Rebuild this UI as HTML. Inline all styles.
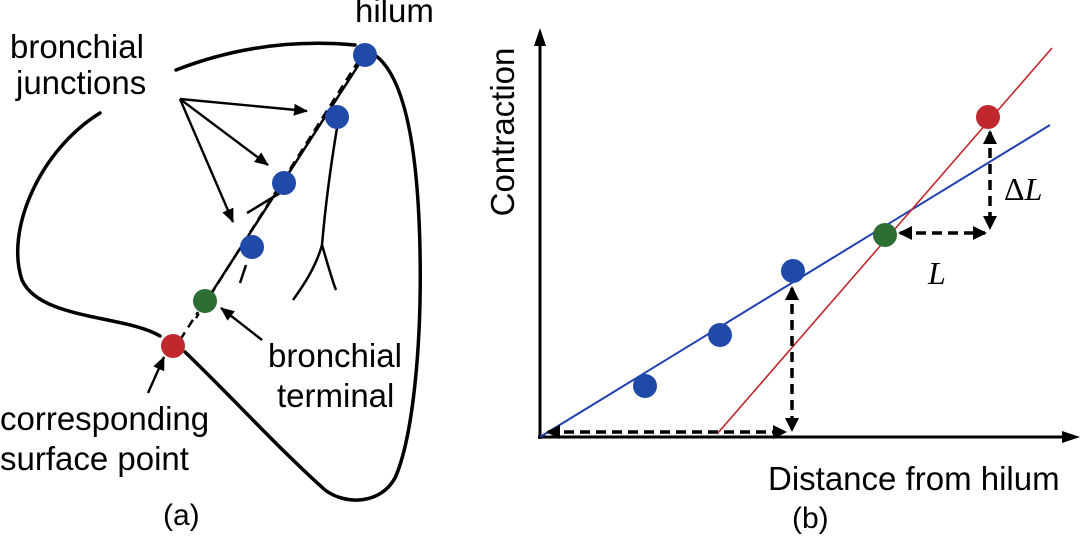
<!DOCTYPE html>
<html><head><meta charset="utf-8"><style>
html,body{margin:0;padding:0;background:#fff;}
svg{display:block;}
text{font-family:"Liberation Sans",sans-serif;fill:#000;}
</style></head><body>
<svg width="1080" height="536" viewBox="0 0 1080 536" xmlns="http://www.w3.org/2000/svg">
<defs>
<marker id="ah" markerWidth="14" markerHeight="12" refX="13" refY="6" orient="auto" markerUnits="userSpaceOnUse">
<path d="M0,0 L14,6 L0,12 z" fill="#000"/></marker>
<marker id="ah2" markerWidth="14" markerHeight="14" refX="12" refY="7" orient="auto-start-reverse" markerUnits="userSpaceOnUse">
<path d="M0,0 L14,7 L0,14 z" fill="#000"/></marker>
</defs>
<g fill="none" stroke="#000" stroke-width="3.5" stroke-linecap="round">
<path d="M176,70 C240,45 300,40 355,45"/>
<path d="M370,52 C405,70 418,150 420,250 C422,350 412,440 395,478 C380,505 345,505 325,490 C280,450 230,395 185,352"/>
<path d="M100,113 C40,150 5,230 22,280 C40,320 125,315 160,336"/>
</g>
<g fill="none" stroke="#000" stroke-width="2.5">
<path d="M365,55 L212,292"/>
<path d="M359,60 L196,318" stroke-dasharray="9,6"/>
<path d="M180,340 L198,312" stroke-dasharray="9,6"/>
<path d="M337,128 C330,170 325,210 322,245 C315,270 300,290 293,300"/>
<path d="M322,245 C328,265 332,280 336,290"/>
<path d="M247,213 L280,193"/>
<path d="M240,283 L246,265"/>
</g>
<g stroke="#000" stroke-width="2.4" fill="none">
<line x1="180" y1="99" x2="307" y2="111" marker-end="url(#ah)"/>
<line x1="180" y1="99" x2="268" y2="165" marker-end="url(#ah)"/>
<line x1="180" y1="99" x2="233" y2="222" marker-end="url(#ah)"/>
<line x1="262" y1="340" x2="221" y2="308" marker-end="url(#ah)"/>
<line x1="148" y1="393" x2="164" y2="357" marker-end="url(#ah)"/>
</g>
<circle cx="365" cy="55" r="12" fill="#1f4aa8"/>
<circle cx="337" cy="117" r="12" fill="#1f4aa8"/>
<circle cx="284" cy="183" r="12" fill="#1f4aa8"/>
<circle cx="252" cy="247" r="12" fill="#1f4aa8"/>
<circle cx="205" cy="301" r="12" fill="#2c6e34"/>
<circle cx="173" cy="346" r="12" fill="#c0282d"/>
<g font-size="33">
<text x="355" y="22">hilum</text>
<text x="10" y="58">bronchial</text>
<text x="16" y="94">junctions</text>
<text x="268" y="367">bronchial</text>
<text x="277" y="407">terminal</text>
<text x="0" y="430">corresponding</text>
<text x="0" y="470">surface point</text>
<text x="163" y="525" font-size="30">(a)</text>
</g>
<g stroke="#000" stroke-width="3" fill="none">
<line x1="540" y1="439" x2="540" y2="38"/>
<line x1="538" y1="437" x2="1070" y2="437"/>
</g>
<path d="M540,28 L534,46 L546,46 z" fill="#000"/>
<path d="M1080,437 L1062,431 L1062,443 z" fill="#000"/>
<line x1="540" y1="437" x2="1050" y2="125" stroke="#2040b0" stroke-width="2"/>
<line x1="717" y1="434" x2="1052" y2="48" stroke="#c0282d" stroke-width="1.6"/>
<g stroke="#000" stroke-width="3.5" fill="none" stroke-dasharray="10,6">
<line x1="548" y1="432" x2="785" y2="432" marker-start="url(#ah2)" marker-end="url(#ah2)"/>
<line x1="792" y1="288" x2="792" y2="430" marker-start="url(#ah2)" marker-end="url(#ah2)"/>
<line x1="900" y1="233" x2="985" y2="233" marker-start="url(#ah2)" marker-end="url(#ah2)"/>
<line x1="990" y1="132" x2="990" y2="228" marker-start="url(#ah2)" marker-end="url(#ah2)"/>
</g>
<circle cx="645" cy="386" r="12" fill="#1f4aa8"/>
<circle cx="720" cy="335" r="12" fill="#1f4aa8"/>
<circle cx="793" cy="271" r="12" fill="#1f4aa8"/>
<circle cx="885" cy="235" r="12" fill="#2c6e34"/>
<circle cx="988" cy="117" r="12" fill="#c0282d"/>
<text x="1004" y="200" font-size="32" fill="#333" style="font-family:'Liberation Serif',serif">Δ<tspan font-style="italic">L</tspan></text>
<text x="928" y="284" font-size="32" font-style="italic" fill="#333" style="font-family:'Liberation Serif',serif">L</text>
<text transform="translate(514,132) rotate(-90)" text-anchor="middle" font-size="33">Contraction</text>
<text x="768" y="490" font-size="33">Distance from hilum</text>
<text x="792" y="528" font-size="30">(b)</text>
</svg>
</body></html>
